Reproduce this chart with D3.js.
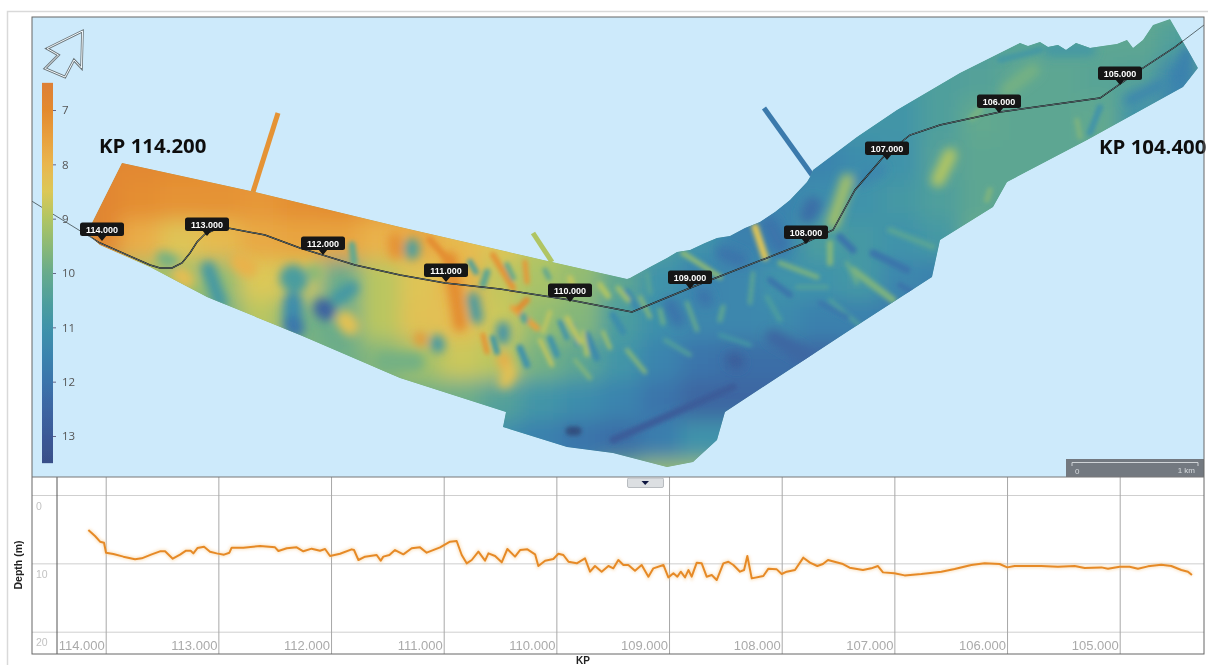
<!DOCTYPE html>
<html><head><meta charset="utf-8">
<script src="https://cdn.jsdelivr.net/npm/d3@7/dist/d3.min.js"></script>
<style>html,body{margin:0;background:#fff;overflow:hidden}svg{display:block}</style>
</head><body><svg id="c" width="1208" height="665"></svg>
<script>
// ---------- DATA ----------
const kpTicks=[114,113,112,111,110,109,108,107,106,105];
const depthTicks=[0,10,20];
const legendTicks=[7,8,9,10,11,12,13];
const legendStops=[6.5,7,7.5,8,8.5,9,9.5,10,10.5,11,11.5,12,12.5,13,13.5];
const legendColors=["#dd7f36","#e38a2e","#e8a03e","#e9b64e","#dcc858","#b0c563","#8bb976","#67ab8c","#4f9f9c","#3f93aa","#3b84ae","#3b74ab","#3c66a2","#3b5997","#394f88"];
const profileKp=[114.154,114.095,114.05,114.015,113.997,113.932,113.843,113.74,113.68,113.592,113.518,113.473,113.405,113.34,113.287,113.246,113.222,113.186,113.127,113.074,113.015,112.95,112.902,112.882,112.778,112.63,112.497,112.467,112.393,112.305,112.246,112.172,112.098,112.053,112.009,111.92,111.817,111.796,111.757,111.698,111.595,111.559,111.536,111.482,111.432,111.358,111.284,111.21,111.151,111.032,110.944,110.885,110.84,110.796,110.751,110.692,110.633,110.603,110.544,110.485,110.435,110.367,110.322,110.257,110.189,110.16,110.1,110.027,109.982,109.938,109.893,109.819,109.746,109.701,109.657,109.598,109.538,109.494,109.45,109.405,109.361,109.302,109.243,109.183,109.139,109.05,109.006,108.961,108.926,108.896,108.858,108.828,108.799,108.754,108.71,108.666,108.621,108.577,108.518,108.473,108.429,108.37,108.334,108.305,108.266,108.163,108.118,108.044,108.0,107.956,107.882,107.808,107.749,107.684,107.634,107.589,107.515,107.456,107.397,107.279,107.205,107.146,107.101,107.0,106.909,106.761,106.583,106.465,106.317,106.199,106.066,105.998,105.933,105.696,105.548,105.4,105.311,105.163,105.104,105.0,104.912,104.838,104.749,104.631,104.542,104.453,104.394,104.359];
const profileDepth=[5.12,6.0,6.83,6.98,8.44,8.63,9.02,9.41,9.27,8.68,8.24,8.24,9.32,8.73,8.15,8.15,8.54,7.76,7.56,8.29,8.54,8.73,8.44,7.71,7.71,7.46,7.66,8.2,7.8,7.66,8.24,7.85,8.15,7.9,8.93,8.59,7.95,8.05,9.51,9.02,8.78,9.61,9.02,8.78,8.05,8.68,7.8,7.66,8.44,7.66,6.83,6.73,8.78,10.0,9.51,8.29,9.61,8.54,8.93,9.85,7.9,9.02,8.05,7.95,8.68,10.39,9.61,9.37,8.59,8.78,9.76,10.0,9.27,11.22,10.39,11.22,10.39,10.73,9.51,10.24,10.24,11.07,10.24,11.95,10.73,10.24,12.05,11.46,11.95,11.22,12.05,10.98,11.95,9.9,10.0,11.95,11.71,12.44,10.0,9.76,10.24,11.22,10.98,8.93,12.2,11.85,10.78,10.88,11.56,11.22,10.98,9.17,9.9,10.39,10.1,9.51,9.85,10.1,10.63,10.98,10.73,10.39,11.32,11.46,11.76,11.56,11.22,10.83,10.24,10.0,10.1,10.59,10.39,10.39,10.49,10.39,10.68,10.59,10.78,10.49,10.49,10.78,10.44,10.2,10.39,10.98,11.22,11.71];
// map units: east / north of the survey sheet
const swathE=[122,255,400,500,543,627,630,650,667,677,690,705,717,730,745,760,775,790,807,810,813,857,897,960,990,1020,1028,1040,1048,1058,1066,1076,1090,1103,1117,1127,1133,1143,1153,1170,1198,1183,1087,1007,993,940,932,850,725,717,693,667,613,567,503,506,400,300,207,150,100,83,92];
const swathN=[163,192,227,250,260,279,278,267,258,252,250,243,238,236,228,222,212,200,182,177,170,137,110,73,58,43,46,42,47,45,50,43,48,46,44,40,48,40,25,19,68,87,140,182,207,240,277,330,412,440,462,467,453,447,427,412,378,335,297,267,245,230,223];
const routeE=[30,82,100,150,160,172,182,190,197,205,214,228,265,300,355,400,445,500,570,632,690,800,833,855,885,910,940,1000,1100,1140,1175,1204];
const routeN=[200,232,243,265,268,268,263,253,242,234,230,228,235,248,265,275,283,289,300,312,288,245,230,190,155,135,125,112,98,70,47,25];
const markerKp=["114.000","113.000","112.000","111.000","110.000","109.000","108.000","107.000","106.000","105.000"];
const markerE=[102,207,323,446,570,690,806,887,999,1120];
const markerN=[241,236,255,282,302,289,244,160,113,85];
const gridCols=[100,140,180,220,260,300,340,380,420,460,500,540,580,620,660,700,740,780,820,860,900,940,980,1020,1060,1100,1140,1180];
const gridRows=[40,80,120,160,200,240,280,320,360,400,440,480];
const depthGrid=[
[7,7,7,7,7,7,7,8,8,9,10,10,11,11,11,11,11,11,11,11,11,10.5,10.5,10.3,10.3,10.2,10.2,10.5],
[7.2,7,7,7,7,7,7,7.5,8,9,10,10,11,11,11,11,11,11,11,11,10.8,10.5,10.4,10.2,10.2,10.3,10.4,11.5],
[7.2,7,7,7,7,7,7,7.5,8,9,10,10,11,11,11,11,11,11.5,11.2,10.9,10.9,10.5,10.1,10.2,10.2,10.1,11,11.5],
[6.9,6.9,7,7.1,7.1,7.1,7.1,7.5,8,9,10,10,11,11,11,11,11.5,11.5,11.5,11.2,11,10.4,10.2,10.2,10.2,10.2,10.4,11],
[6.8,7.1,7.2,7.2,7.3,7.1,7,7.3,7.5,8,9,10,11,11,11,11,11.8,11.5,11.2,11,10.8,10.5,10.2,10.2,10.2,10.2,10.2,10.5],
[6.8,7.8,8.4,8.1,7.7,7.6,7.6,7.9,7.7,8.1,8.4,8.9,9.2,9.5,10.5,11,11.6,11.5,10.6,10.8,11,10.8,10,10.2,10.2,10.2,10.2,10.5],
[9.2,9.2,9.2,9.4,8.5,8.6,10,8.9,8.4,7.9,8.8,9.1,9.4,10.2,11,11.5,11.4,11,11,10.8,11.4,11.6,11,10.5,10.5,10.5,10.5,10.5],
[9.5,9.5,9.6,9.8,8.9,9.8,10,8.9,8.3,8.2,8.7,9.4,9.6,10.6,11.1,11.4,11.4,11.3,11.6,11.6,11.8,12,11.5,11,11,11,11,11],
[9.5,9.5,9.6,9.7,9.6,9.7,9.9,9.6,9.2,8.7,8.9,9.8,10.2,10.9,11.5,12,12.2,12.2,12.4,12.2,12,12,12,12,12,12,12,12],
[9.5,9.5,9.6,9.7,9.6,9.7,9.8,9.8,9.8,9.9,10.4,10.9,11.2,11.5,12,12.5,12.5,12.5,12.5,12.5,12,12,12,12,12,12,12,12],
[9,9,9.5,9.5,9.5,9.5,9.5,10,10,10.8,11.2,11.6,12,12.2,11.7,11,11,11,11,11,11,11,11,11,11,11,11,11],
[9,9,9.5,9.5,9.5,9.5,9.5,10,10,10.8,11,11,11,9.8,9.3,9.3,10,10,10,10,10,10,10,10,10,10,10,10]];
// ridges: east1, north1, east2, north2, depth, breadth
const ridges=[
[208,268,220,302,10.8,9],[163,258,172,262,9.8,9],[180,275,186,280,8.2,12],[240,262,248,268,7.9,14],
[293,278,295,280,10.6,22],[293,302,293,326,11.2,14],[293,325,295,328,11.9,14],[323,308,326,311,12.6,14],[338,298,352,288,10.8,9],[352,245,354,262,10.1,6],[345,320,350,326,8.3,14],[313,272,316,274,9.5,10],
[395,240,396,252,7.2,9],[450,258,460,325,7,8],[493,255,513,288,7.2,5],[525,262,527,282,7.3,4],[513,308,537,328,7.5,5],[527,300,519,308,7,5],[483,335,487,352,7.2,4],[420,338,421,340,7.3,7],[503,358,510,375,7.8,8],[430,240,450,262,7.1,6],
[412,246,412,252,10.5,10],[437,342,438,346,10.8,9],[473,298,477,318,10.8,7],[503,328,503,338,11,8],[493,338,497,352,10.8,5],[520,348,527,365,11,6],[523,316,525,320,10.3,6],[487,272,483,285,10.2,6],[507,265,513,278,10,5],[550,338,557,355,11,5],[560,322,567,338,11,4],[587,335,597,358,11.3,6],[573,325,577,345,11,3],[613,315,623,332,11.2,6],[627,292,637,308,11.3,6],[385,362,415,362,9.8,14],[470,262,476,272,10.4,5],[545,270,549,278,10.2,4],
[567,318,580,342,8.8,4],[550,312,543,332,8.8,3],[570,278,572,284,8.8,5],[583,332,587,355,8.9,3],[603,332,610,348,9.2,3],[510,370,505,382,8.3,8],[600,285,608,296,9,5],[618,288,628,300,9.2,4],[540,340,552,365,8.7,3],[627,350,645,372,9.5,3],[575,360,590,378,9.6,3],
[755,227,765,257,8.4,6],[683,253,720,277,9.4,4],[847,180,833,223,9.2,8],[830,243,830,263,9.6,5],[780,263,817,277,9.7,4],[853,270,893,300,9.7,6],[847,263,857,283,10,3],[890,230,933,247,10.3,5],[753,273,750,303,10.2,3],[723,307,720,320,10.2,4],[687,303,697,330,10,3],[767,297,780,320,10.6,4],[797,287,827,287,10.4,3],[660,310,663,323,10,4],[640,297,650,317,9.6,3],[647,273,650,293,10.3,3],[665,340,690,355,10.4,3],[830,300,865,330,10.5,3],[720,335,750,345,10.8,3],
[723,253,740,260,12,10],[670,305,678,320,12,10],[703,295,706,300,12,9],[770,225,780,245,12,13],[813,205,808,215,12.2,12],[873,253,907,270,12,6],[840,237,853,250,12,6],[770,280,790,295,12,5],[820,303,847,317,11.9,4],[773,337,807,357,12.5,10],[733,360,737,362,12.8,10],[900,285,925,300,12,5],[613,440,733,387,12.9,6],[860,180,880,170,11.4,8],
[1033,70,1007,90,9.8,9],[980,110,972,118,9.8,6],[950,155,938,180,9,9],[990,190,987,200,9.7,5],[1077,120,1080,137,9.7,4],[1130,100,1160,85,11.4,7],[1187,53,1180,77,11.6,8],[1100,107,1090,133,11,5],[1050,50,1090,50,10.8,8],[1000,60,1040,50,10.8,5]];
const spurE=[[253,278],[533,552],[764,812]];
const spurN=[[192,113],[233,262],[108,175]];
const spurDepth=[7.2,9,11.8];
const holeE=[570,577],holeN=[431,431];

// ---------- SCALES ----------
const svg=d3.select("#c");
const defs=svg.append("defs");
const blur=(id,s)=>defs.append("filter").attr("id",id).attr("x","-20%").attr("y","-20%").attr("width","140%").attr("height","140%").append("feGaussianBlur").attr("stdDeviation",s);
blur("soft",0.6);blur("field",10);blur("ridge",2.2);blur("blob",5);blur("halo",1.5);
const panel={l:32,r:1204,t:17,b:477,pb:654};
const mapE=d3.scaleLinear().domain([panel.l,panel.r]).range([panel.l,panel.r]);
const mapN=d3.scaleLinear().domain([panel.t,panel.b]).range([panel.t,panel.b]);
const color=d3.scaleLinear().domain(legendStops).range(legendColors).clamp(true);
const legendY=d3.scaleLinear().domain([7,13]).range([110,436]);
const kpX=d3.scaleLinear().domain([114,105]).range([105.7,1119.7]);
const depthY=d3.scaleLinear().domain([0,20]).range([495,631.7]);
const colB=d3.scaleBand().domain(gridCols).range([mapE(80),mapE(1200)]);
const rowB=d3.scaleBand().domain(gridRows).range([mapN(20),mapN(500)]);

const root=svg.append("g").attr("filter","url(#soft)");
root.append("rect").attr("x",7.5).attr("y",11.5).attr("width",1300).attr("height",700).attr("fill","#fff").attr("stroke","#d9d9d9").attr("stroke-width",1.5);
root.append("rect").attr("x",panel.l).attr("y",panel.t).attr("width",panel.r-panel.l).attr("height",panel.b-panel.t).attr("fill","#cdeafb");

// ---------- MAP ----------
const swath=swathE.map((e,i)=>[mapE(e),mapN(swathN[i])]);
defs.append("clipPath").attr("id","sw").append("polygon").attr("points",swath.join(" "));
const spurs=root.append("g");
spurs.selectAll("line").data(spurDepth).join("line")
 .attr("x1",(d,i)=>mapE(spurE[i][0])).attr("x2",(d,i)=>mapE(spurE[i][1]))
 .attr("y1",(d,i)=>mapN(spurN[i][0])).attr("y2",(d,i)=>mapN(spurN[i][1]))
 .attr("stroke",d=>color(d)).attr("stroke-width",5);
const sw=root.append("g").attr("clip-path","url(#sw)");
sw.append("polygon").attr("points",swath.join(" ")).attr("fill",color(10));
const cells=sw.append("g").attr("filter","url(#field)");
depthGrid.forEach((row,r)=>{
 cells.selectAll(null).data(row).join("rect")
  .attr("x",(d,c)=>colB(gridCols[c])).attr("y",rowB(gridRows[r]))
  .attr("width",colB.bandwidth()+1).attr("height",rowB.bandwidth()+1)
  .attr("fill",d=>color(d));
});
const drawRidges=(g,list,extra)=>g.selectAll("line").data(list).join("line")
 .attr("x1",d=>mapE(d[0])).attr("y1",d=>mapN(d[1]))
 .attr("x2",d=>mapE(d[2])).attr("y2",d=>mapN(d[3]))
 .attr("stroke",d=>color(d[4])).attr("stroke-width",d=>d[5]+extra).attr("stroke-linecap","round");
drawRidges(sw.append("g").attr("filter","url(#blob)"),ridges.filter(d=>d[5]>=7),5);
const rg=sw.append("g").attr("filter","url(#ridge)");
drawRidges(rg,ridges.filter(d=>d[5]<7),1);
rg.append("line").attr("x1",mapE(holeE[0])).attr("x2",mapE(holeE[1])).attr("y1",mapN(holeN[0])).attr("y2",mapN(holeN[1]))
 .attr("stroke","#33507f").attr("stroke-width",9).attr("stroke-linecap","round");

// route
const routeLine=d3.line().x(i=>mapE(routeE[i])).y(i=>mapN(routeN[i]));
defs.append("clipPath").attr("id","inPanel").append("rect").attr("x",panel.l).attr("y",panel.t).attr("width",panel.r-panel.l).attr("height",panel.b-panel.t);
root.append("path").attr("clip-path","url(#inPanel)").attr("d",routeLine(d3.range(routeE.length))).attr("fill","none").attr("stroke","#5a6a70").attr("stroke-width",1);
sw.append("path").attr("d",routeLine(d3.range(routeE.length))).attr("fill","none").attr("stroke","#000").attr("stroke-width",1.4);

// KP tags
const tags=root.append("g").selectAll("g").data(markerKp).join("g")
 .attr("transform",(d,i)=>`translate(${mapE(markerE[i])},${mapN(markerN[i])})`);
tags.append("path").attr("d","M-5,-6L5,-6L0,0Z").attr("fill","#141414");
tags.append("rect").attr("x",-22).attr("y",-18.5).attr("width",44).attr("height",13.5).attr("rx",2.5).attr("fill","#141414");
tags.append("text").attr("y",-8.3).attr("text-anchor","middle").attr("fill","#fff").attr("font-family","Liberation Sans").attr("font-weight","bold").attr("font-size",9).text(d=>d);

// annotations
const ann=[["KP 114.200",99,153],["KP 104.400",1099,153.5]];
root.selectAll("text.ann").data(ann).join("text").attr("class","ann").attr("x",d=>d[1]).attr("y",d=>d[2])
 .attr("font-family","Open Sans").attr("font-weight",700).attr("font-size",20.4).attr("fill","#111").text(d=>d[0]);

// legend
const gid=defs.append("linearGradient").attr("id","lg").attr("x1",0).attr("x2",0).attr("y1",0).attr("y2",1);
const lgT=d3.scaleLinear().domain([legendStops[0],legendStops[legendStops.length-1]]).range([0,1]);
gid.selectAll("stop").data(legendStops).join("stop").attr("offset",d=>lgT(d)).attr("stop-color",d=>color(d));
root.append("rect").attr("x",42).attr("y",legendY(6.5)).attr("width",11).attr("height",legendY(13.5)-legendY(6.5)).attr("fill","url(#lg)");
const lg=root.append("g").attr("transform","translate(53,0)").call(d3.axisRight(legendY).tickValues(legendTicks).tickSize(3).tickPadding(6).tickFormat(d3.format("d")));
lg.select(".domain").remove();
lg.selectAll("line").attr("stroke","#668");
lg.selectAll("text").attr("fill","#555").attr("font-size",11.5).attr("font-family","Open Sans");

// north arrow
const arrowX=[82.5,81.5,74,65,45,58.5,47];
const arrowY=[31,68,60,77,68.5,55,48.5];
const arrowPts=arrowX.map((x,i)=>[x,arrowY[i]]);
root.append("polygon").attr("points",arrowPts.join(" ")).attr("fill","none").attr("stroke","#6a7478").attr("stroke-width",2.6);
root.append("polygon").attr("points",arrowPts.join(" ")).attr("fill","none").attr("stroke","#f4fbff").attr("stroke-width",1);

// scale bar
root.append("rect").attr("x",1066).attr("y",459).attr("width",138).attr("height",18).attr("fill","#737980");
const sb=d3.scaleLinear().domain([0,1]).range([1072,1198]);
root.append("path").attr("d",`M${sb(0)},466V462.5H${sb(1)}V466`).attr("fill","none").attr("stroke","#cfd3d6").attr("stroke-width",1);
root.append("text").attr("x",sb(0)+3).attr("y",474).attr("fill","#d8dcdf").attr("font-size",8).attr("font-family","Liberation Sans").text("0");
root.append("text").attr("x",sb(1)-3).attr("y",473).attr("text-anchor","end").attr("fill","#d8dcdf").attr("font-size",8).attr("font-family","Liberation Sans").text("1 km");

// ---------- PROFILE ----------
root.append("rect").attr("x",panel.l).attr("y",panel.b).attr("width",panel.r-panel.l).attr("height",panel.pb-panel.b).attr("fill","#fff");
const gy=root.append("g").attr("transform",`translate(${panel.l},0)`).call(d3.axisRight(depthY).tickValues(depthTicks).tickSize(panel.r-panel.l).tickFormat(d3.format("d")));
gy.select(".domain").remove();
gy.selectAll("line").attr("stroke","#cfcfcf").attr("stroke-width",1);
gy.selectAll("text").attr("x",4).attr("dy","1.35em").attr("fill","#c2c2c2").attr("font-size",10.5).attr("font-family","Liberation Sans").attr("text-anchor","start");
const gx=root.append("g").attr("transform",`translate(0,${panel.pb})`).call(d3.axisBottom(kpX).tickValues(kpTicks).tickSize(panel.b-panel.pb).tickFormat(d3.format(".3f")));
gx.select(".domain").remove();
gx.selectAll("line").attr("stroke","#a8a8a8").attr("stroke-width",1);
gx.selectAll("text").attr("x",-1.5).attr("y",-4.5).attr("dy",0).attr("text-anchor","end").attr("fill","#aaa").attr("font-size",13).attr("font-family","Liberation Sans");
const pl=d3.line().x(i=>kpX(profileKp[i])).y(i=>depthY(profileDepth[i]));
const idx=d3.range(profileKp.length);
root.append("path").attr("d",pl(idx)).attr("fill","none").attr("stroke","#f7c98a").attr("stroke-width",4).attr("opacity",.5).attr("filter","url(#halo)");
root.append("path").attr("d",pl(idx)).attr("fill","none").attr("stroke","#e68a28").attr("stroke-width",2).attr("stroke-linejoin","round");
root.append("line").attr("x1",57).attr("x2",57).attr("y1",panel.b).attr("y2",panel.pb).attr("stroke","#555");
root.append("rect").attr("x",panel.l).attr("y",panel.t).attr("width",panel.r-panel.l).attr("height",panel.pb-panel.t).attr("fill","none").attr("stroke","#666").attr("stroke-width",1);
root.append("line").attr("x1",panel.l).attr("x2",panel.r).attr("y1",panel.b).attr("y2",panel.b).attr("stroke","#777");
// collapse button
root.append("rect").attr("x",627.5).attr("y",478).attr("width",36).attr("height",9.5).attr("rx",1.5).attr("fill","#dcdfe2").attr("stroke","#b8bcc0");
root.append("path").attr("d","M641.5,481H649L645.2,485Z").attr("fill","#101840");
root.append("text").attr("transform","translate(22,565) rotate(-90)").attr("text-anchor","middle").attr("font-family","Liberation Sans").attr("font-weight","bold").attr("font-size",10.5).attr("fill","#222").text("Depth (m)");
root.append("text").attr("x",583).attr("y",664).attr("text-anchor","middle").attr("font-family","Liberation Sans").attr("font-weight","bold").attr("font-size",10).attr("fill","#222").text("KP");
</script></body></html>
